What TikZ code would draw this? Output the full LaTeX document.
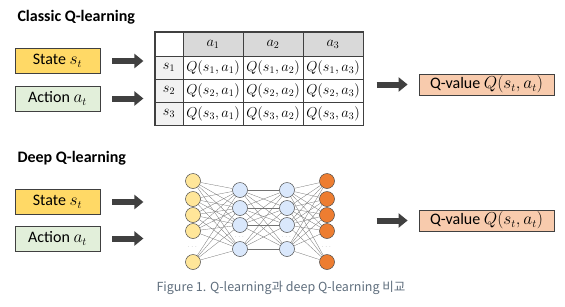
\documentclass[tikz,border=0pt]{standalone}
\usepackage{fontspec}
\setmainfont{Carlito}
\newfontfamily\krfont{Noto Sans CJK KR}
\usepackage{amsmath}
\usetikzlibrary{arrows.meta}

\definecolor{stateyellow}{RGB}{255,217,102}
\definecolor{actiongreen}{RGB}{226,239,218}
\definecolor{qorange}{RGB}{248,203,173}
\definecolor{arrowgray}{RGB}{64,64,64}
\definecolor{headgray}{RGB}{217,217,217}
\definecolor{sidegray}{RGB}{242,242,242}
\definecolor{inyellow}{RGB}{255,230,153}
\definecolor{hidblue}{RGB}{218,232,252}
\definecolor{outorange}{RGB}{237,125,49}
\definecolor{capgray}{RGB}{95,110,125}

\tikzset{
  inbox/.style={draw=arrowgray, line width=0.8pt, minimum width=85pt, minimum height=25pt,
    inner sep=0pt, font=\fontsize{16}{18}\selectfont},
  qbox/.style={inbox, fill=qorange, minimum width=135pt, minimum height=21pt},
  bigarrow/.style={arrowgray, line width=6pt, -{Triangle[length=9pt,width=14pt]}},
  title/.style={anchor=west, font=\bfseries\fontsize{16}{18}\selectfont},
  cell/.style={draw=black!75, line width=0.7pt, inner sep=0pt, font=\fontsize{14}{16}\selectfont},
  neuron/.style={circle, draw=black!70, line width=0.5pt, minimum size=15pt, inner sep=0pt},
  link/.style={black!55, line width=0.3pt},
  dotsn/.style={font=\tiny, text=black!60}
}

\begin{document}
\begin{tikzpicture}[x=1pt, y=-1pt]
    \useasboundingbox (0,0) rectangle (565,306);

    % Classic Q-learning
    \node[title] (classic) at (14,17) {Classic Q-learning};
    \node[inbox, fill=stateyellow] (state1) at (57.5,61) {State $s_t$};
    \node[inbox, fill=actiongreen] (action1) at (57.5,98.5) {Action $a_t$};
    \draw[bigarrow] ([xshift=12pt]state1.east) -- ++(31,0);
    \draw[bigarrow] ([xshift=12pt]action1.east) -- ++(31,0);

    % Q-table
    \node[cell, fill=white, minimum width=28pt, minimum height=24pt] (c-0-0) at (169,44) {};
    \foreach \c/\x in {1/213,2/273,3/333}
      \node[cell, fill=headgray, minimum width=60pt, minimum height=24pt] (c-0-\c) at (\x,44) {$a_\c$};
    \foreach \r/\y in {1/67.5,2/90.5,3/113.5} {
      \node[cell, fill=sidegray, minimum width=28pt, minimum height=23pt] (c-\r-0) at (169,\y) {$s_\r$};
      \foreach \c/\x in {1/213,2/273,3/333}
        \node[cell, fill=white, minimum width=60pt, minimum height=23pt] (c-\r-\c) at (\x,\y) {$Q(s_\r,a_\c)$};
    }
    \draw[black!75, line width=1pt] (c-0-0.north west) rectangle (c-3-3.south east);

    \node[qbox] (qval1) at (486.5,84.5) {Q-value $Q(s_t,a_t)$};
    \draw[bigarrow] ([xshift=-42pt]qval1.west) -- ++(31,0);

    % Deep Q-learning
    \node[title] (deep) at (14,158) {Deep Q-learning};
    \node[inbox, fill=stateyellow] (state2) at (57.5,202) {State $s_t$};
    \node[inbox, fill=actiongreen] (action2) at (57.5,238.5) {Action $a_t$};
    \draw[bigarrow] ([xshift=12pt]state2.east) -- ++(31,0);
    \draw[bigarrow] ([xshift=12pt]action2.east) -- ++(31,0);

    % network
    \foreach \i/\y in {1/181,2/199,3/215,4/231,5/262} {
      \node[neuron, fill=inyellow] (in\i) at (193,\y) {};
      \node[neuron, fill=outorange] (out\i) at (327,\y) {};
    }
    \foreach \j/\y in {1/190,2/208,3/225,4/249} {
      \node[neuron, fill=hidblue] (ha\j) at (240,\y) {};
      \node[neuron, fill=hidblue] (hb\j) at (287,\y) {};
    }
    \foreach \i in {1,...,5}
      \foreach \j in {1,...,4} {
        \draw[link] (in\i) -- (ha\j);
        \draw[link] (hb\j) -- (out\i);
      }
    \foreach \i in {1,...,4}
      \foreach \j in {1,...,4}
        \draw[link] (ha\i) -- (hb\j);
    \node[dotsn] (dotin) at (193,247) {$\cdots$};
    \node[dotsn] (dotha) at (240,237) {$\cdots$};
    \node[dotsn] (dothb) at (287,237) {$\cdots$};
    \node[dotsn] (dotout) at (327,247) {$\cdots$};

    \node[qbox] (qval2) at (486.5,220.5) {Q-value $Q(s_t,a_t)$};
    \draw[bigarrow] ([xshift=-42pt]qval2.west) -- ++(31,0);

    % caption
    \node[text=capgray, font=\krfont\fontsize{12.5}{14}\selectfont] (caption) at (281,288)
      {Figure 1. Q-learning과 deep Q-learning 비교};
\end{tikzpicture}
\end{document}
